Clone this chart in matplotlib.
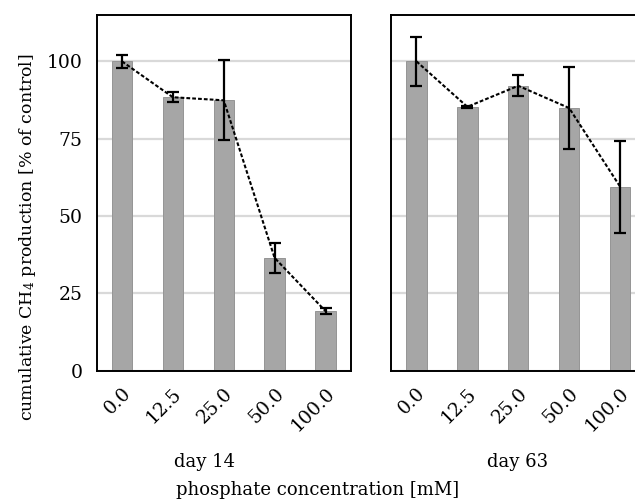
import matplotlib
matplotlib.use("Agg")
import matplotlib.pyplot as plt
import numpy as np

categories = ["0.0", "12.5", "25.0", "50.0", "100.0"]
day14_mean = [100.0, 88.4, 87.4, 36.4, 19.2]
day14_err = [2.1, 1.6, 12.9, 4.9, 0.9]
day63_mean = [100.0, 85.3, 92.1, 84.9, 59.5]
day63_err = [8.0, 0.4, 3.4, 13.2, 14.9]
panel_titles = ["day 14", "day 63"]
yticks = [0, 25, 50, 75, 100]

plt.rcParams['font.family'] = ['DejaVu Serif']
plt.rcParams['mathtext.default'] = 'regular'

W, H = 635, 501
fig = plt.figure(figsize=(W/100, H/100), dpi=100)

def px(x0, y0, x1, y1):
    return [x0/W, 1 - y1/H, (x1-x0)/W, (y1-y0)/H]

ax1 = fig.add_axes(px(96.5, 15, 351, 370.5))
ax2 = fig.add_axes(px(391, 15, 645.5, 370.5))

bar_color = '#a6a6a6'
for ax, means, errs in [(ax1, day14_mean, day14_err), (ax2, day63_mean, day63_err)]:
    x = np.arange(len(categories))
    ax.set_axisbelow(True)
    ax.yaxis.grid(True, color='#d9d9d9', lw=1.6)
    ax.bar(x, means, width=0.4, color=bar_color, edgecolor='#959595', lw=0.7, zorder=2)
    ax.plot(x, means, color='black', ls=(0, (1.8, 1.0)), lw=1.5, zorder=3)
    ax.errorbar(x, means, yerr=errs, fmt='none', ecolor='black', elinewidth=1.6,
                capsize=4, capthick=1.6, zorder=4)
    ax.set_xlim(-0.5, len(categories) - 0.5)
    ax.set_ylim(0, 115)
    ax.set_yticks(yticks)
    ax.set_xticks(x)
    ax.set_xticklabels(categories, rotation=45, ha='right', rotation_mode='anchor', fontsize=13)
    ax.tick_params(length=0, pad=10, labelsize=13.5)
    for s in ax.spines.values():
        s.set_linewidth(1.4)
        s.set_color('black')

ax2.set_yticklabels([])
ax1.set_ylabel(r'cumulative CH$_4$ production [% of control]', fontsize=12.5)
ax1.yaxis.set_label_coords((38 - 96.5) / 254.5, (370.5 - 237) / 355.5)

fig.text(205/W, 1 - 462/H, panel_titles[0], ha='center', va='center', fontsize=13)
fig.text(518/W, 1 - 462/H, panel_titles[1], ha='center', va='center', fontsize=13)
fig.text(318/W, 1 - 490/H, 'phosphate concentration [mM]', ha='center', va='center', fontsize=13)

fig.savefig('out.png', dpi=100)
